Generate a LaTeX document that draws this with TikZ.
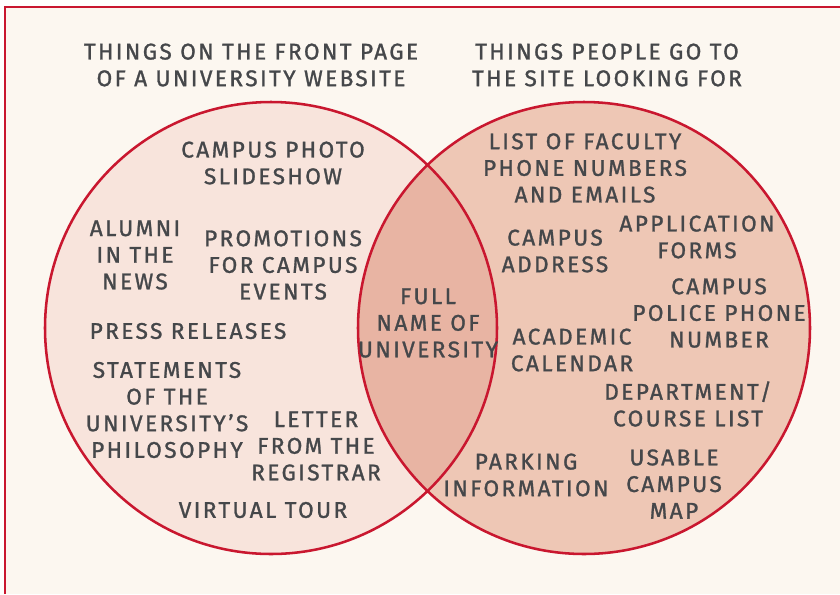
\documentclass[tikz,border=0pt]{standalone}
\usepackage{fontspec}
\setmainfont{Fira Sans}[LetterSpace=10.5,FakeBold=1.2]
\usetikzlibrary{positioning}
\definecolor{paper}{HTML}{FCF7F0}
\definecolor{rim}{HTML}{C9172F}
\definecolor{fillL}{HTML}{F8E4DC}
\definecolor{fillR}{HTML}{EEC7B5}
\definecolor{fillM}{HTML}{E8B4A3}
\definecolor{ink}{HTML}{45474A}

\begin{document}
\begin{tikzpicture}[
  x=0.75pt,y=-0.75pt,
  item/.style={align=center,text=ink,inner sep=0pt,
               font=\fontsize{17}{20}\selectfont},
  heading/.style={item},
  ring/.style={draw=rim,line width=1.9pt}
]
\useasboundingbox (0,0) rectangle (840,594);
\fill[white!96!paper] (0,0) rectangle (840,594);
\fill[paper] (5,7) rectangle (840,594);
\draw[rim,line width=2pt] (5,594)--(5,7)--(840,7);

\coordinate (L) at (271,328);
\coordinate (R) at (584,328);

\fill[fillL] (L) circle (226);
\fill[fillR] (R) circle (226);
\begin{scope}
  \clip (L) circle (226);
  \fill[fillM] (R) circle (226);
\end{scope}
\draw[ring] (L) circle (226);
\draw[ring] (R) circle (226);

\node[heading] (titleL) at (251,65) {THINGS ON THE FRONT PAGE\\OF A UNIVERSITY WEBSITE};
\node[heading] (titleR) at (607,65) {THINGS PEOPLE GO TO\\THE SITE LOOKING FOR};

% front page only
\node[item] (slides) at (273,163) {CAMPUS PHOTO\\SLIDESHOW};
\node[item] (alumni) at (135,255) {ALUMNI\\IN THE\\NEWS};
\node[item] (promo) at (283,265) {PROMOTIONS\\FOR CAMPUS\\EVENTS};
\node[item] (press) at (188,331) {PRESS RELEASES};
\node[item] (philo) at (167,410) {STATEMENTS\\OF THE\\UNIVERSITY’S\\PHILOSOPHY};
\node[item] (letter) at (316,446) {LETTER\\FROM THE\\REGISTRAR};
\node[item] (tour) at (263,510) {VIRTUAL TOUR};

% both
\node[item] (name) at (428,323) {FULL\\NAME OF\\UNIVERSITY};

% looked for only
\node[item] (faculty) at (585,168) {LIST OF FACULTY\\PHONE NUMBERS\\AND EMAILS};
\node[item] (address) at (555,251) {CAMPUS\\ADDRESS};
\node[item] (forms) at (697,237) {APPLICATION\\FORMS};
\node[item] (police) at (719,313) {CAMPUS\\POLICE PHONE\\NUMBER};
\node[item] (calendar) at (572,350) {ACADEMIC\\CALENDAR};
\node[item] (courses) at (688,404) {DEPARTMENT/\\COURSE LIST};
\node[item] (parking) at (526,475) {PARKING\\INFORMATION};
\node[item] (map) at (674,484) {USABLE\\CAMPUS\\MAP};
\end{tikzpicture}
\end{document}
